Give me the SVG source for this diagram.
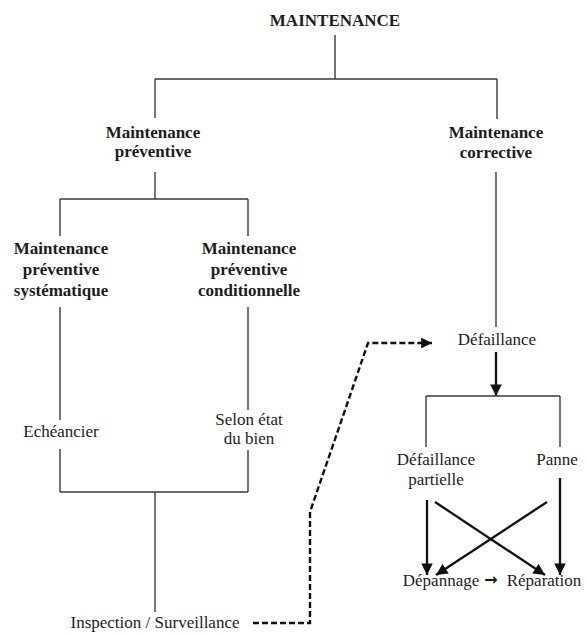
<svg xmlns="http://www.w3.org/2000/svg" width="587" height="635" viewBox="0 0 587 635">
<defs>
<style>
.t{font-family:"Liberation Serif","Times New Roman",serif;font-size:17px;fill:#1c1c1c;text-anchor:middle}
.b{font-weight:bold}
.sym{font-family:"DejaVu Sans",sans-serif;font-size:16px;font-weight:bold}
.tree{stroke:#3a3a3a;stroke-width:1.4;fill:none}
.arr{stroke:#111;stroke-width:2.3;fill:none}
.dash{stroke:#111;stroke-width:2.4;fill:none;stroke-dasharray:6 3}
</style>
<marker id="ah" viewBox="0 0 10 10" refX="10" refY="5" markerWidth="5.5" markerHeight="5" markerUnits="strokeWidth" orient="auto">
<path d="M0,0 L10,5 L0,10 z" fill="#111"/>
</marker>
<marker id="ahd" viewBox="0 0 10 10" refX="10" refY="5" markerWidth="5" markerHeight="4.5" markerUnits="strokeWidth" orient="auto">
<path d="M0,0 L10,5 L0,10 z" fill="#111"/>
</marker>
</defs>
<rect width="587" height="635" fill="#fff"/>
<g id="connectors">
<path class="tree" d="M335,35 V79 M155,79 H497 M155,79 V118 M497,79 V119"/>
<path class="tree" d="M155,172 V199 M60,199 H248 M60,199 V236 M248,199 V236"/>
<path class="tree" d="M60,307 V420 M60,449 V492 M248,307 V410 M248,450 V492 M60,492 H248 M155,492 V612"/>
<path class="tree" d="M496,172 V327"/>
<path class="arr" d="M496,352 V396" marker-end="url(#ah)"/>
<path class="tree" d="M426,396 H560 M426,396 V447 M560,396 V447"/>
<path class="arr" d="M427,500 V575" marker-end="url(#ah)"/>
<path class="arr" d="M560,478 V575" marker-end="url(#ah)"/>
<path class="arr" d="M435,502 L545,575" marker-end="url(#ah)"/>
<path class="arr" d="M547,502 L436,575" marker-end="url(#ah)"/>
<path class="dash" d="M253,623 H310 V512 L368,343 H432" marker-end="url(#ahd)"/>
</g>
<g id="n-maintenance"><text class="t b" x="335" y="26">MAINTENANCE</text></g>
<g id="n-preventive"><text class="t b" x="153" y="138">Maintenance</text><text class="t b" x="153" y="157">préventive</text></g>
<g id="n-corrective"><text class="t b" x="496" y="138">Maintenance</text><text class="t b" x="496" y="158">corrective</text></g>
<g id="n-systematique"><text class="t b" x="61" y="254">Maintenance</text><text class="t b" x="61" y="275">préventive</text><text class="t b" x="61" y="296">systématique</text></g>
<g id="n-conditionnelle"><text class="t b" x="249" y="254">Maintenance</text><text class="t b" x="249" y="275">préventive</text><text class="t b" x="249" y="296">conditionnelle</text></g>
<g id="n-echeancier"><text class="t" x="61" y="437">Echéancier</text></g>
<g id="n-selon"><text class="t" x="249" y="425">Selon état</text><text class="t" x="249" y="444">du bien</text></g>
<g id="n-inspection"><text class="t" x="155" y="628">Inspection / Surveillance</text></g>
<g id="n-defaillance"><text class="t" x="497" y="345">Défaillance</text></g>
<g id="n-partielle"><text class="t" x="436" y="465">Défaillance</text><text class="t" x="436" y="485">partielle</text></g>
<g id="n-panne"><text class="t" x="557" y="465">Panne</text></g>
<g id="n-depannage"><text class="t" x="441" y="586">Dépannage</text></g>
<g id="n-arrow-txt"><text class="t sym" x="491" y="585">→</text></g>
<g id="n-reparation"><text class="t" x="544" y="586">Réparation</text></g>
</svg>
